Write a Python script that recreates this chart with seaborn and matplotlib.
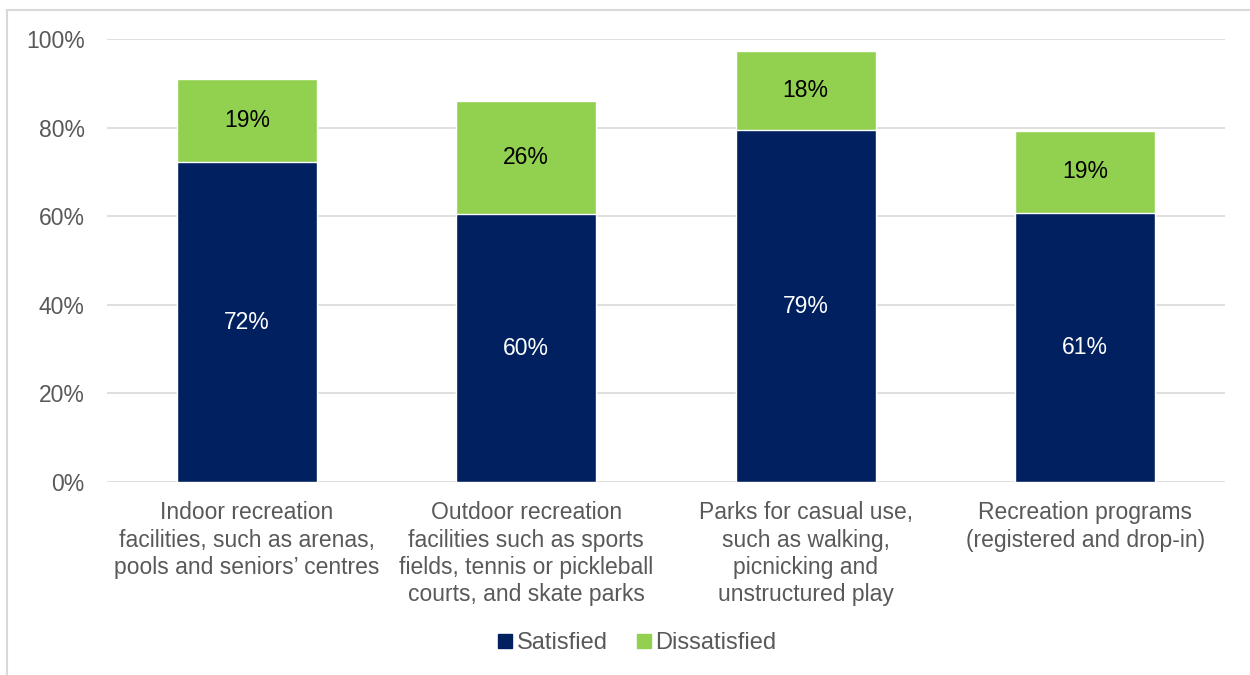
import matplotlib
matplotlib.use("Agg")
import matplotlib.pyplot as plt
from matplotlib.lines import Line2D
from matplotlib.patches import Rectangle
from matplotlib.ticker import FuncFormatter
import seaborn as sns
import pandas as pd

categories = [
    "Indoor recreation\nfacilities, such as arenas,\npools and seniors\u2019 centres",
    "Outdoor recreation\nfacilities such as sports\nfields, tennis or pickleball\ncourts, and skate parks",
    "Parks for casual use,\nsuch as walking,\npicnicking and\nunstructured play",
    "Recreation programs\n(registered and drop-in)",
]
satisfied = [72.2, 60.4, 79.4, 60.7]
dissatisfied = [18.8, 25.6, 17.8, 18.6]

NAVY = "#002060"
GREEN = "#92D050"
TEXT = "#595959"
GRID = "#D9D9D9"
FS = 16.5

sns.set_style("white")
plt.rcParams["font.family"] = ["Liberation Sans", "DejaVu Sans"]

df = pd.DataFrame({
    "category": categories,
    "satisfied": satisfied,
    "dissatisfied": dissatisfied,
})
df["total"] = df["satisfied"] + df["dissatisfied"]

fig = plt.figure(figsize=(12.5, 6.75), dpi=100)
ax = fig.add_axes([0.0856, 0.2859, 0.8944, 0.6563])

# Stacked bars: total (green) behind, satisfied (navy) in front
sns.barplot(data=df, x="category", y="total", color=GREEN, width=0.5,
            saturation=1, ax=ax, zorder=2)
sns.barplot(data=df, x="category", y="satisfied", color=NAVY, width=0.5,
            saturation=1, ax=ax, zorder=3)

for i, (s, d) in enumerate(zip(satisfied, dissatisfied)):
    ax.text(i, s / 2, f"{s:.0f}%", ha="center", va="center",
            color="white", fontsize=FS, zorder=4)
    ax.text(i, s + d / 2, f"{d:.0f}%", ha="center", va="center",
            color="black", fontsize=FS, zorder=4)

ax.set_ylim(0, 100)
ax.set_xlim(-0.5, 3.5)
ax.set_yticks(range(0, 101, 20))
ax.yaxis.set_major_formatter(FuncFormatter(lambda v, _: f"{v:.0f}%"))
ax.yaxis.grid(True, color=GRID, linewidth=1.2, zorder=0)
ax.set_axisbelow(True)
for sp in ax.spines.values():
    sp.set_visible(False)
ax.tick_params(axis="y", length=0, pad=16, labelsize=FS, labelcolor=TEXT)
ax.tick_params(axis="x", length=0, pad=14, labelsize=FS, labelcolor=TEXT)
ax.set_xlabel("")
ax.set_ylabel("")
for lab in ax.get_xticklabels():
    lab.set_linespacing(1.23)

handles = [
    Line2D([], [], marker="s", linestyle="none", markersize=10,
           markerfacecolor=NAVY, markeredgecolor=NAVY, label="Satisfied"),
    Line2D([], [], marker="s", linestyle="none", markersize=10,
           markerfacecolor=GREEN, markeredgecolor=GREEN, label="Dissatisfied"),
]
leg = fig.legend(handles=handles, loc="center", bbox_to_anchor=(0.508, 0.047),
                 ncol=2, frameon=False, fontsize=FS + 0.5, handletextpad=0.0,
                 columnspacing=1.0, handlelength=1.0)
for t in leg.get_texts():
    t.set_color(TEXT)

# Chart area border (cropped at the right/bottom edges)
fig.patches.append(Rectangle((7 / 1250, -0.01), 1.05, 1 - 10 / 675 + 0.01,
                             transform=fig.transFigure, fill=False,
                             edgecolor=GRID, linewidth=1.5))

fig.savefig("out.png", dpi=100)
